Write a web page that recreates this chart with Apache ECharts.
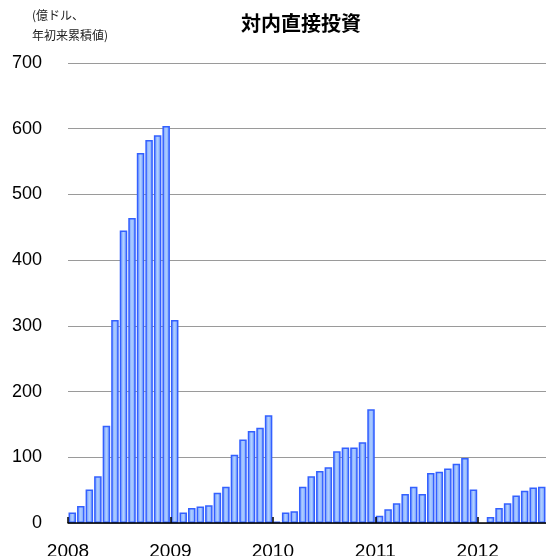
<!DOCTYPE html>
<html>
<head>
<meta charset="utf-8">
<script src="https://cdn.jsdelivr.net/npm/echarts@6/dist/echarts.min.js"></script>
<style>html,body{margin:0;padding:0;background:#fff;overflow:hidden;}#c{width:546px;height:556px;}</style>
</head>
<body>
<div id="c"></div>
<script>
const yearLabels = ['2008', '2009', '2010', '2011', '2012'];
const y2008 = [16, 26, 51, 71, 148, 309, 445, 464, 563, 583, 590, 604];
const y2009 = [309, 16, 23, 25, 27, 46, 55, 104, 127, 140, 145, 164];
const y2010 = [2, 16, 18, 55, 71, 79, 85, 109, 115, 115, 123, 173];
const y2011 = [11, 21, 30, 44, 55, 44, 76, 78, 83, 90, 99, 51];
const y2012 = [null, 9, 23, 30, 42, 49, 54, 55];
const yTicks = [0, 100, 200, 300, 400, 500, 600, 700];

const all = [].concat(y2008, y2009, y2010, y2011, y2012);
const data = all.map((v, i) => [i + 0.5, v]);

const chart = echarts.init(document.getElementById('c'));
chart.setOption({
  animation: false,
  backgroundColor: '#fff',
  title: [{
    text: '対内直接投資',
    left: 296, top: 8, textAlign: 'center',
    textStyle: {fontFamily: 'Noto Sans CJK JP', fontSize: 20, fontWeight: 'bold', color: '#000'}
  }, {
    text: '(億ドル、\n年初来累積値)',
    left: 27, top: 0,
    textStyle: {fontFamily: 'Noto Sans CJK JP', fontSize: 12, fontWeight: 'normal', color: '#222', lineHeight: 20}
  }],
  grid: {left: 68, right: 0, top: 63, bottom: 33, containLabel: false, outerBoundsMode: 'none'},
  xAxis: {
    type: 'value', min: 0, max: all.length, interval: 12, z: 5,
    axisLine: {show: true, lineStyle: {color: '#000', width: 1.5}},
    axisTick: {show: true, inside: true, length: 6, lineStyle: {color: '#000', width: 1.5}},
    splitLine: {show: false},
    axisLabel: {
      showMaxLabel: false,
      margin: 19, fontSize: 19, color: '#000', fontFamily: 'Liberation Sans',
      formatter: v => (v % 12 === 0 ? yearLabels[v / 12] || '' : '')
    }
  },
  yAxis: {
    type: 'value', min: 0, max: 700, interval: 100,
    axisLine: {show: false}, axisTick: {show: false},
    splitLine: {show: true, lineStyle: {color: '#9a9a9a', width: 1}},
    axisLabel: {margin: 26, fontSize: 18, color: '#000', fontFamily: 'Liberation Sans',
      formatter: v => (yTicks.indexOf(v) >= 0 ? String(v) : '')}
  },
  series: [{
    type: 'bar',
    data: data,
    barWidth: 7.5,
    itemStyle: {
      borderColor: '#3360ff', borderWidth: 1.5,
      color: new echarts.graphic.LinearGradient(0, 0, 1, 0, [
        {offset: 0, color: '#6690ff'},
        {offset: 0.5, color: '#b0d0ff'},
        {offset: 1, color: '#6690ff'}
      ])
    }
  }]
});
</script>
</body>
</html>
